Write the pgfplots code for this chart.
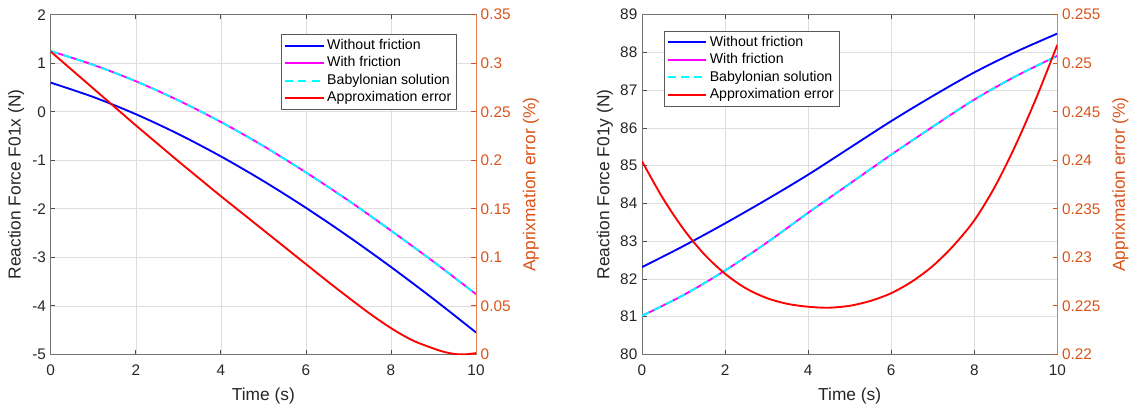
\documentclass[border=0pt]{standalone}
\usepackage{pgfplots}
\pgfplotsset{compat=1.18}
\usepackage{fontspec}
\setmainfont{Liberation Sans}
\definecolor{morange}{RGB}{217,83,25}
\definecolor{tickgray}{RGB}{38,38,38}
\definecolor{mblue}{RGB}{0,0,255}
\definecolor{mmag}{RGB}{255,0,255}
\definecolor{mcyan}{RGB}{0,255,255}
\definecolor{mred}{RGB}{255,0,0}

\pgfplotstableread{
x blue mag
0 0.60 1.25
1 0.304 0.967
2 -0.05 0.63
3 -0.459 0.235
4 -0.92 -0.21
5 -1.428 -0.706
6 -1.98 -1.25
7 -2.572 -1.83
8 -3.20 -2.45
9 -3.86 -3.09
10 -4.55 -3.76
}\leftF

\pgfplotstableread{
x err
0 0.312
0.5 0.293
1 0.274
1.5 0.255
2 0.236
2.5 0.2175
3 0.199
3.5 0.181
4 0.163
4.5 0.1455
5 0.128
5.5 0.1105
6 0.093
6.5 0.0755
7 0.0585
7.5 0.042
8 0.027
8.5 0.0145
9 0.006
9.25 0.0025
9.5 0.0003
9.75 0.0
10 0.0012
}\leftE

\pgfplotstableread{
x blue mag
0 82.31 81.02
1 82.87 81.57
2 83.47 82.22
3 84.10 82.955
4 84.76 83.75
5 85.47 84.52
6 86.18 85.29
7 86.845 86.03
8 87.47 86.75
9 88.015 87.37
10 88.50 87.91
}\rightF

\pgfplotstableread{
x err
0 0.2399
0.5 0.2361
1 0.2329
1.5 0.2303
2 0.2283
2.5 0.2268
3 0.2258
3.5 0.2252
4 0.2249
4.5 0.2248
5 0.2250
5.5 0.2255
6 0.2263
6.5 0.2275
7 0.2291
7.5 0.2312
8 0.2338
8.5 0.2373
9 0.2416
9.5 0.2465
10 0.2519
}\rightE

\pgfplotsset{
  base/.style={
    scale only axis,
    xmin=0, xmax=10,
    height=254.7pt,
    /pgf/number format/assume math mode=true,
    tick label style={font=\fontsize{11.5}{13}\selectfont},
    label style={font=\fontsize{13}{15}\selectfont},
    tick align=inside,
    major tick length=3.5pt,
  },
  leftax/.style={
    base,
    xtick={0,2,4,6,8,10},
    grid=major,
    grid style={color=black!13, line width=0.4pt},
    axis line style={color=black!55, line width=0.6pt},
    tick style={color=black!70, line width=0.5pt},
    ticklabel style={text=tickgray},
    xticklabel style={yshift=-4.5pt},
    ytick pos=left, xtick pos=both,
    xlabel={Time (s)},
    xlabel style={at={(axis description cs:0.5,0)}, anchor=center, yshift=-31pt, text=tickgray},
    legend cell align=left,
    legend image code/.code={\draw[#1] (0pt,0pt) -- (29pt,0pt);},
    legend style={draw=black!65, line width=0.5pt, fill=white,
      font=\fontsize{10.6}{12}\selectfont, inner xsep=2pt, inner ysep=2pt,
      nodes={inner ysep=1.6pt, inner xsep=2pt, text height=7.7pt, text depth=2.2pt}},
  },
  rightax/.style={
    base,
    axis x line=none,
    axis y line*=right,
    y axis line style={color=morange!75!white, line width=0.6pt},
    ytick style={color=morange, line width=0.5pt},
    yticklabel style={text=morange, /pgf/number format/fixed, /pgf/number format/precision=3},
    scaled y ticks=false,
    ylabel={Apprixmation error (\%)},
  },
}

\begin{document}
\begin{tikzpicture}
% ---------- left panel ----------
\begin{axis}[leftax,
  at={(38.03pt,38.03pt)}, anchor=south west, width=318.98pt,
  ymin=-5, ymax=2, ytick={-5,-4,-3,-2,-1,0,1,2},
  ylabel={Reaction Force F01x (N)},
  ylabel style={at={([xshift=-26pt]axis description cs:0,0.5)}, anchor=center, text=tickgray},
  legend style={at={(axis description cs:0.5415,0.943)}, anchor=north west},
]
\addplot[mblue, line width=1.4pt, smooth] table[x=x, y=blue] {\leftF};
\addlegendentry{Without friction}
\addplot[mmag, line width=1.4pt, smooth] table[x=x, y=mag] {\leftF};
\addlegendentry{With friction}
\addplot[mcyan, line width=1.4pt, smooth, dash pattern=on 6pt off 4pt] table[x=x, y=mag] {\leftF};
\addlegendentry{Babylonian solution}
\addlegendimage{mred, line width=1.4pt}
\addlegendentry{Approximation error}
\end{axis}
\begin{axis}[rightax,
  at={(38.03pt,38.03pt)}, anchor=south west, width=318.98pt,
  ymin=0, ymax=0.35, ytick={0,0.05,0.1,0.15,0.2,0.25,0.3,0.35},
  ylabel style={at={([xshift=41.25pt]axis description cs:1,0.5)}, anchor=center, text=morange},
]
\addplot[mred, line width=1.4pt, smooth] table[x=x, y=err] {\leftE};
\end{axis}
% ---------- right panel ----------
\begin{axis}[leftax,
  at={(481.5pt,38.03pt)}, anchor=south west, width=311.5pt,
  ymin=80, ymax=89, ytick={80,81,...,89},
  ylabel={Reaction Force F01y (N)},
  ylabel style={at={([xshift=-27.75pt]axis description cs:0,0.5)}, anchor=center, text=tickgray},
  legend style={at={(axis description cs:0.052,0.953)}, anchor=north west},
]
\addplot[mblue, line width=1.4pt, smooth] table[x=x, y=blue] {\rightF};
\addlegendentry{Without friction}
\addplot[mmag, line width=1.4pt, smooth] table[x=x, y=mag] {\rightF};
\addlegendentry{With friction}
\addplot[mcyan, line width=1.4pt, smooth, dash pattern=on 6pt off 4pt] table[x=x, y=mag] {\rightF};
\addlegendentry{Babylonian solution}
\addlegendimage{mred, line width=1.4pt}
\addlegendentry{Approximation error}
\end{axis}
\begin{axis}[rightax,
  at={(481.5pt,38.03pt)}, anchor=south west, width=311.5pt,
  ymin=0.22, ymax=0.255, ytick={0.22,0.225,0.23,0.235,0.24,0.245,0.25,0.255},
  ylabel style={at={([xshift=47.25pt]axis description cs:1,0.5)}, anchor=center, text=morange},
]
\addplot[mred, line width=1.4pt, smooth] table[x=x, y=err] {\rightE};
\end{axis}
\pgfresetboundingbox
\path (0pt,0pt) rectangle (851.25pt,303.75pt);
\end{tikzpicture}
\end{document}
